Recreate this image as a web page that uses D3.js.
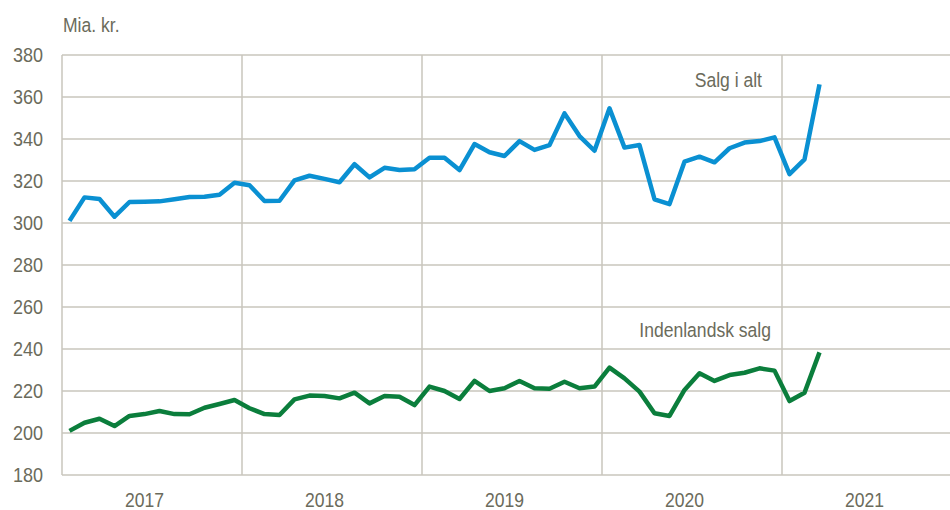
<!DOCTYPE html>
<html>
<head>
<meta charset="utf-8">
<script src="https://cdn.jsdelivr.net/npm/d3@7"></script>
<style>
  body { margin: 0; background: #fff; }
  svg text { font-family: "Liberation Sans Narrow", "Arial Narrow", "Liberation Sans", Arial, sans-serif; fill: #6b6b5b; }
</style>
</head>
<body>
<div id="chart"></div>
<script>
// monthly values, Jan 2017 - Mar 2021 (mia. kr.)
var years = [2017, 2018, 2019, 2020, 2021];
var yTicks = [180, 200, 220, 240, 260, 280, 300, 320, 340, 360, 380];

var salgIAlt = [
  301.0, 312.2, 311.4, 303.0, 310.0, 310.1, 310.3, 311.3, 312.4, 312.5, 313.5, 319.2,
  318.0, 310.5, 310.6, 320.3, 322.5, 321.0, 319.4, 328.0, 321.7, 326.3, 325.2, 325.6,
  331.1, 331.1, 325.2, 337.6, 333.7, 331.9, 339.0, 334.8, 337.1, 352.2, 341.4, 334.4,
  354.6, 335.9, 337.1, 311.3, 309.0, 329.2, 331.6, 328.9, 335.6, 338.3, 339.0, 340.8,
  323.3, 330.3, 366.0
];
var indenlandsk = [
  201.0, 204.9, 206.8, 203.3, 208.1, 209.0, 210.5, 209.0, 208.9, 212.0, 213.8, 215.7,
  211.8, 209.0, 208.6, 216.0, 217.8, 217.6, 216.5, 219.2, 214.1, 217.6, 217.3, 213.3,
  222.1, 220.0, 216.2, 224.8, 220.0, 221.3, 224.8, 221.3, 221.1, 224.4, 221.3, 222.1,
  231.1, 226.0, 219.7, 209.4, 208.1, 220.5, 228.4, 224.8, 227.6, 228.7, 230.8, 229.7,
  215.2, 219.2, 238.4
];

var width = 950, height = 510;
var margin = {top: 55, left: 62, bottom: 35};

var svg = d3.select("#chart").append("svg")
    .attr("width", width)
    .attr("height", height);

// x in months since Jan 2017, one year = 12 months
var x = d3.scaleLinear()
    .domain([0, years.length * 12])
    .range([margin.left, margin.left + 180 * years.length]);

var y = d3.scaleLinear()
    .domain([180, 380])
    .range([height - margin.bottom, margin.top]);

var gridColor = "#c9c6bc";

// narrow look: squeeze the text a bit horizontally
function place(px, py) {
    return "translate(" + px + "," + py + ") scale(0.9,1)";
}

// horizontal grid
svg.append("g")
  .selectAll("line")
  .data(yTicks)
  .enter().append("line")
    .attr("x1", margin.left)
    .attr("x2", width)
    .attr("y1", d => y(d))
    .attr("y2", d => y(d))
    .attr("stroke", gridColor)
    .attr("stroke-width", 1.5);

// vertical year separators (plus left axis line)
svg.append("g")
  .selectAll("line")
  .data(d3.range(0, years.length))
  .enter().append("line")
    .attr("x1", d => x(d * 12))
    .attr("x2", d => x(d * 12))
    .attr("y1", y(380))
    .attr("y2", y(180))
    .attr("stroke", gridColor)
    .attr("stroke-width", 1.5);

// y tick labels
svg.append("g")
  .selectAll("text")
  .data(yTicks)
  .enter().append("text")
    .attr("transform", d => place(43, y(d) + 7))
    .attr("text-anchor", "end")
    .style("font-size", "20px")
    .text(d => d);

// year labels
svg.append("g")
  .selectAll("text")
  .data(years)
  .enter().append("text")
    .attr("transform", (d, i) => place(x(i * 12 + 5.5), 507))
    .attr("text-anchor", "middle")
    .style("font-size", "19.5px")
    .text(d => d);

// unit label
svg.append("text")
    .attr("transform", place(63, 32))
    .style("font-size", "19.5px")
    .text("Mia. kr.");

var line = d3.line()
    .x((d, i) => x(i + 0.5))
    .y(d => y(d));

svg.append("path")
    .datum(salgIAlt)
    .attr("d", line)
    .attr("fill", "none")
    .attr("stroke", "#0a90d2")
    .attr("stroke-width", 4.5)
    .attr("stroke-linejoin", "round");

svg.append("path")
    .datum(indenlandsk)
    .attr("d", line)
    .attr("fill", "none")
    .attr("stroke", "#0b7e3c")
    .attr("stroke-width", 4.5)
    .attr("stroke-linejoin", "round");

// series labels
svg.append("text")
    .attr("transform", place(762, 87))
    .attr("text-anchor", "end")
    .style("font-size", "19.5px")
    .text("Salg i alt");

svg.append("text")
    .attr("transform", place(771, 337))
    .attr("text-anchor", "end")
    .style("font-size", "19.5px")
    .text("Indenlandsk salg");
</script>
</body>
</html>
